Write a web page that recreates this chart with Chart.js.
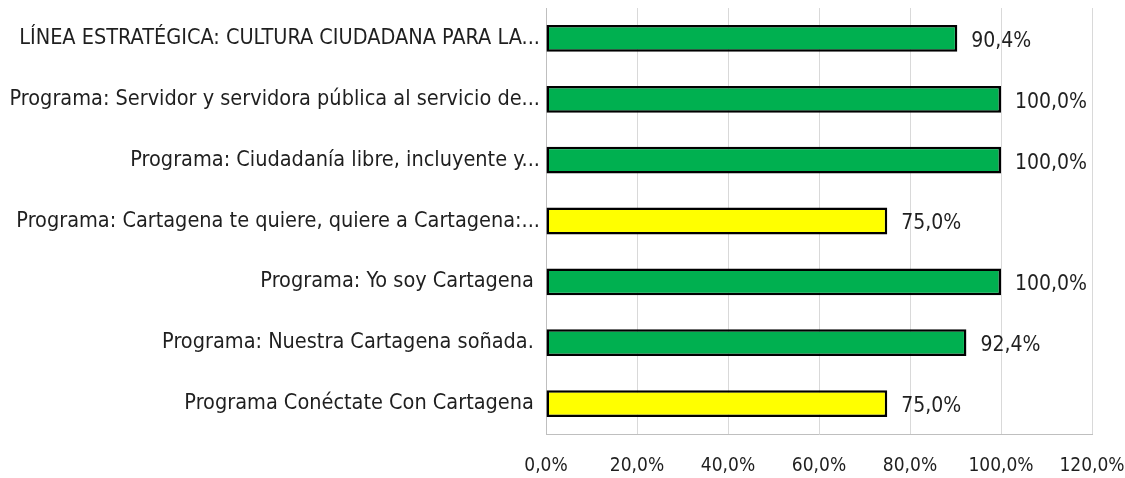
<!DOCTYPE html>
<html><head><meta charset="utf-8">
<script src="https://cdn.jsdelivr.net/npm/chart.js@4"></script>
<style>html,body{margin:0;padding:0;background:#fff}#w{width:1125px;height:478px}</style>
</head><body><div id="w"><canvas id="c" width="1125" height="478"></canvas></div>
<script>
const categories = [
  "LÍNEA ESTRATÉGICA: CULTURA CIUDADANA PARA LA...",
  "Programa: Servidor y servidora pública al servicio de...",
  "Programa: Ciudadanía libre, incluyente y...",
  "Programa: Cartagena te quiere, quiere a Cartagena:...",
  "Programa: Yo soy Cartagena ",
  "Programa: Nuestra Cartagena soñada. ",
  "Programa Conéctate Con Cartagena "
];
const values = [90.4, 100.0, 100.0, 75.0, 100.0, 92.4, 75.0];
const barColors = ["#00B050","#00B050","#00B050","#FFFF00","#00B050","#00B050","#FFFF00"];
const FONT = "'Liberation Sans Narrow','DejaVu Sans Condensed',sans-serif";
const fmt = v => v.toFixed(1).replace('.', ',') + '%';

const valueLabels = {
  id: 'valueLabels',
  afterDatasetsDraw(chart) {
    const ctx = chart.ctx;
    const meta = chart.getDatasetMeta(0);
    ctx.save();
    ctx.font = "21px " + FONT;
    ctx.fillStyle = "#1f1f1f";
    ctx.textAlign = "left";
    ctx.textBaseline = "middle";
    meta.data.forEach((bar, i) => {
      ctx.fillText(fmt(values[i]), bar.x + 14, bar.y + 3);
    });
    ctx.restore();
  }
};

new Chart(document.getElementById('c'), {
  type: 'bar',
  data: {
    labels: categories,
    datasets: [{
      data: values,
      backgroundColor: barColors,
      borderColor: "#000",
      borderWidth: 2.5,
      borderSkipped: false,
      barPercentage: 0.44,
      categoryPercentage: 1
    }]
  },
  options: {
    indexAxis: 'y',
    responsive: false,
    animation: false,
    layout: { padding: { top: 8, right: 33, left: 0, bottom: 0 } },
    plugins: { legend: { display: false }, tooltip: { enabled: false } },
    scales: {
      x: {
        min: 0, max: 120,
        ticks: { stepSize: 20, callback: v => fmt(v), color: "#1f1f1f", font: { size: 19, family: FONT }, padding: 21 },
        grid: { color: "#d9d9d9", drawTicks: false, lineWidth: 1 },
        border: { color: "#bfbfbf" },
        afterFit(s) { s.height = 44; s.paddingLeft = 0; s.paddingRight = 0; }
      },
      y: {
        ticks: { color: "#1f1f1f", font: { size: 21.5, family: FONT }, padding: 6, autoSkip: false },
        grid: { display: false, drawTicks: false },
        border: { color: "#bfbfbf" },
        afterFit(s) { s.width = 546; s.paddingTop = 0; s.paddingBottom = 0; }
      }
    }
  },
  plugins: [valueLabels]
});
</script></body></html>
